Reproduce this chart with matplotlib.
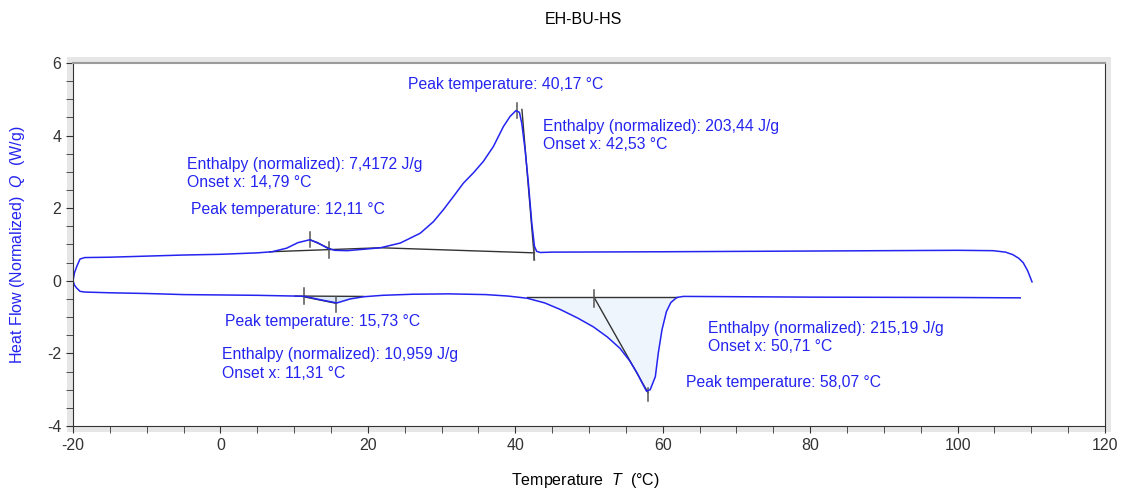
import matplotlib
matplotlib.use("Agg")
import numpy as np
import matplotlib.pyplot as plt
from matplotlib.patches import Rectangle

plt.rcParams['font.family'] = ['Liberation Sans', 'DejaVu Sans']
plt.rcParams['mathtext.fontset'] = 'custom'
plt.rcParams['mathtext.it'] = 'Liberation Sans:italic'
plt.rcParams['mathtext.rm'] = 'Liberation Sans'
plt.rcParams['axes.unicode_minus'] = False

# heating branch (upper curve)
heat_T = [-20.0, -19.8, -19.5, -19.05, -18.4, -15, -10, -5, 0, 5, 7, 9, 10.5, 12.1, 13.2,
          14.5, 15.5, 17.2, 19.5, 21.7, 24.4, 27.1, 28.9, 30.25, 31.6, 32.96, 34.3, 35.67,
          37.03, 38.39, 39.3, 40.1, 40.56, 40.88, 41.33, 41.78, 42.24, 42.6, 42.9,
          43.4, 45, 60, 80, 100, 104.8, 106.5, 107.5, 108.3, 108.9, 109.5, 110.1]
heat_Q = [0.0, 0.22, 0.39, 0.6, 0.64, 0.65, 0.68, 0.71, 0.73, 0.77, 0.8, 0.9, 1.05, 1.13, 1.05,
          0.9, 0.84, 0.83, 0.87, 0.91, 1.04, 1.31, 1.63, 1.96, 2.32, 2.69, 2.97, 3.29,
          3.70, 4.25, 4.53, 4.69, 4.64, 4.34, 3.61, 2.69, 1.59, 0.95, 0.81,
          0.78, 0.79, 0.8, 0.82, 0.84, 0.83, 0.79, 0.72, 0.62, 0.5, 0.28, -0.03]

# cooling branch (lower curve)
cool_T = [-20.0, -19.8, -19.5, -19.05, -18.4, -15, -10, -5, 0, 5, 10, 11.5, 13.5, 15.8, 17.6,
          19.4, 22, 26.1, 31, 36, 39, 41.6, 44, 46.1, 48.5, 50.6, 52.5, 54.2, 55.5, 56.5,
          57.3, 57.8, 58.3, 59.0, 59.4, 59.9, 60.5, 61.1, 61.9, 62.8, 80, 100, 108.5]
cool_Q = [0.0, -0.12, -0.2, -0.29, -0.31, -0.33, -0.35, -0.38, -0.39, -0.40, -0.42, -0.43,
          -0.52, -0.61, -0.50, -0.44, -0.40, -0.37, -0.36, -0.38, -0.42, -0.48, -0.61, -0.79,
          -1.03, -1.27, -1.55, -1.86, -2.2, -2.53, -2.85, -3.04, -3.0, -2.64, -1.99, -1.35,
          -0.85, -0.60, -0.46, -0.43, -0.45, -0.46, -0.47]

# evaluation lines (baselines, tangents)
eval_lines = [
    ([6.7, 21.7, 42.6], [0.80, 0.91, 0.77]),
    ([12.2, 14.9], [1.13, 0.88]),
    ([40.9, 42.6], [4.72, 0.58]),
    ([10.1, 19.4], [-0.42, -0.43]),
    ([11.3, 15.7], [-0.44, -0.62]),
    ([41.6, 61.9], [-0.46, -0.46]),
    ([50.7, 58.0], [-0.46, -3.08]),
]
# little vertical marker ticks: (T, Q_low, Q_high)
markers = [(12.11, 0.92, 1.35), (14.79, 0.63, 1.07), (40.17, 4.49, 4.90),
           (42.53, 0.58, 0.98), (50.71, -0.72, -0.25), (58.07, -3.30, -2.95),
           (11.31, -0.63, -0.19), (15.73, -0.85, -0.44)]

# labels: (T, Q, text)
labels = [
    (25.45, 5.40, "Peak temperature: 40,17 °C"),
    (43.8, 4.24, "Enthalpy (normalized): 203,44 J/g"),
    (43.8, 3.75, "Onset x: 42,53 °C"),
    (-4.5, 3.20, "Enthalpy (normalized): 7,4172 J/g"),
    (-4.5, 2.70, "Onset x: 14,79 °C"),
    (-4.0, 1.96, "Peak temperature: 12,11 °C"),
    (0.6, -1.13, "Peak temperature: 15,73 °C"),
    (0.2, -2.04, "Enthalpy (normalized): 10,959 J/g"),
    (0.2, -2.56, "Onset x: 11,31 °C"),
    (66.2, -1.32, "Enthalpy (normalized): 215,19 J/g"),
    (66.2, -1.82, "Onset x: 50,71 °C"),
    (63.2, -2.81, "Peak temperature: 58,07 °C"),
]

blue = '#2424f0'
fig = plt.figure(figsize=(11.25, 4.93), dpi=100)
ax_rect = [73 / 1125, 67 / 493, 1032 / 1125, 363 / 493]
ax = fig.add_axes(ax_rect)

# gray frame shadow around the plot area
pad_x, pad_y = 6 / 1125, 6 / 493
fig.patches.append(Rectangle((ax_rect[0] - pad_x, ax_rect[1] - pad_y),
                             ax_rect[2] + 2 * pad_x, ax_rect[3] + 2 * pad_y,
                             transform=fig.transFigure, facecolor='#e6e6e6',
                             edgecolor='none', zorder=-5))

cT = np.array(cool_T)
cQ = np.array(cool_Q)
ax.fill_between(cT, cQ, -0.46, where=(cT >= 41.6) & (cT <= 61.9), color='#eef5fd', lw=0)
ax.fill_between(cT, cQ, -0.43, where=(cT >= 11.3) & (cT <= 19.4), color='#dde8fb', lw=0)

for xs, ys in eval_lines:
    ax.plot(xs, ys, color='#333333', lw=1)
for t, lo, hi in markers:
    ax.plot([t, t], [lo, hi], color='#555555', lw=1.1)

ax.plot(heat_T, heat_Q, color=blue, lw=1.1)
ax.plot(cool_T, cool_Q, color=blue, lw=1.1)

for x, y, s in labels:
    ax.text(x, y, s, color=blue, fontsize=11.3, ha='left', va='center')

ax.set_xlim(-20, 120)
ax.set_ylim(-4, 6)
ax.set_xticks(np.arange(-20, 121, 20))
ax.set_xticks(np.arange(-20, 121, 5), minor=True)
ax.set_yticks(np.arange(-4, 7, 2))
ax.set_yticks(np.arange(-4, 6.1, 0.5), minor=True)
ax.tick_params(which='both', direction='out', color='#333333', labelsize=11.5,
               labelcolor='#333333', length=5)
for side in ['left', 'bottom', 'right']:
    ax.spines[side].set_color('#333333')
ax.spines['top'].set_color('#9a9a9a')
ax.spines['top'].set_linewidth(1.5)

fig.text(583 / 1125, 1 - 20 / 493, "EH-BU-HS", ha='center', va='center', fontsize=11.5)
fig.text(585 / 1125, 1 - 480 / 493, r"Temperature  $\it{T}$  (°C)", ha='center',
         va='center', fontsize=11.5)
fig.text(18 / 1125, 1 - 245 / 493, r"Heat Flow (Normalized)  $\it{Q}$  (W/g)",
         ha='center', va='center', rotation=90, color=blue, fontsize=11.5)

fig.savefig("out.png", dpi=100)
